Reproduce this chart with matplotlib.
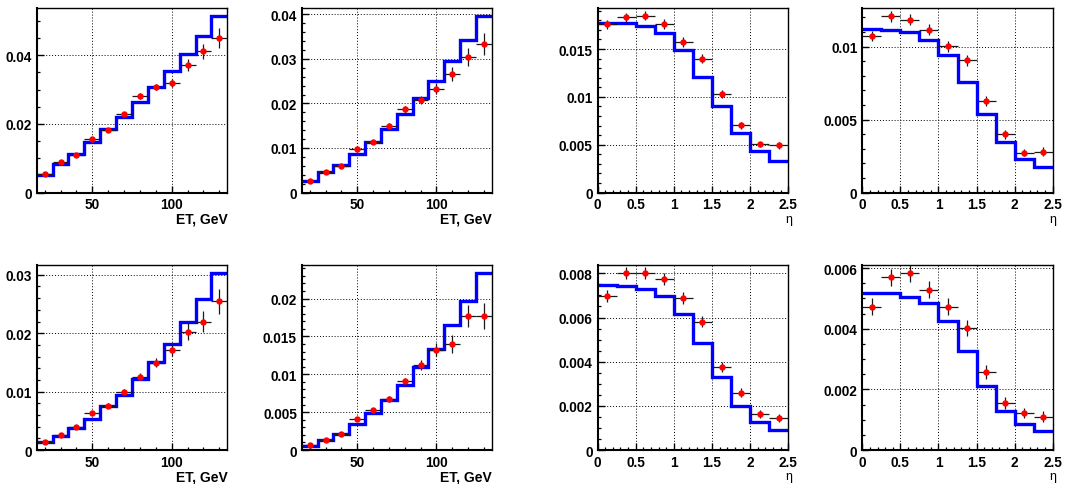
import matplotlib
matplotlib.use("Agg")
import matplotlib.pyplot as plt
from matplotlib.ticker import MultipleLocator, FuncFormatter

# ---- binning ----
et_edges = [15, 25, 35, 45, 55, 65, 75, 85, 95, 105, 115, 125, 135]
et_centers = [20, 30, 40, 50, 60, 70, 80, 90, 100, 110, 120, 130]
eta_edges = [0.0, 0.25, 0.5, 0.75, 1.0, 1.25, 1.5, 1.75, 2.0, 2.25, 2.5]
eta_centers = [0.125, 0.375, 0.625, 0.875, 1.125, 1.375, 1.625, 1.875, 2.125, 2.375]

# ---- top row, ET spectra ----
et1_mc = [0.00512, 0.0082, 0.0112, 0.0146, 0.0184, 0.0220, 0.0264, 0.0307, 0.0353, 0.0405, 0.0457, 0.0513]
et1_data = [0.0055, 0.0088, 0.0109, 0.0156, 0.0182, 0.0229, 0.0281, 0.0307, 0.0318, 0.0372, 0.0411, 0.0450]
et1_err = [0.0004, 0.0005, 0.0005, 0.0006, 0.0006, 0.0007, 0.0008, 0.0009, 0.0012, 0.0018, 0.0023, 0.0029]

et2_mc = [0.00261, 0.00455, 0.00627, 0.00866, 0.01134, 0.01418, 0.01754, 0.0212, 0.0251, 0.0296, 0.0343, 0.0396]
et2_data = [0.0026, 0.00463, 0.00604, 0.00978, 0.01142, 0.01493, 0.01866, 0.02075, 0.02336, 0.02664, 0.03052, 0.03343]
et2_err = [0.0003, 0.0003, 0.0004, 0.0004, 0.0004, 0.0006, 0.0008, 0.0009, 0.0012, 0.0016, 0.0020, 0.0025]

# ---- top row, eta distributions ----
eta1_mc = [0.01771, 0.01768, 0.01736, 0.01663, 0.01486, 0.01212, 0.00903, 0.00622, 0.00431, 0.00333]
eta1_data = [0.01757, 0.0183, 0.0185, 0.01764, 0.01573, 0.01399, 0.01028, 0.00701, 0.00503, 0.00493]
eta1_err = [0.0005, 0.0005, 0.0005, 0.0005, 0.0005, 0.0005, 0.0004, 0.0004, 0.0003, 0.0004]

eta2_mc = [0.01119, 0.01117, 0.01098, 0.01048, 0.00940, 0.00760, 0.00538, 0.00343, 0.00227, 0.00172]
eta2_data = [0.01073, 0.01208, 0.01183, 0.01117, 0.01002, 0.00906, 0.00625, 0.00400, 0.00272, 0.00279]
eta2_err = [0.00037, 0.00037, 0.00037, 0.00037, 0.00037, 0.00037, 0.00033, 0.0003, 0.00025, 0.0003]

# ---- bottom row, ET spectra ----
et3_mc = [0.00143, 0.00245, 0.00371, 0.00531, 0.00747, 0.00947, 0.01215, 0.0150, 0.01814, 0.02196, 0.02584, 0.03023]
et3_data = [0.00143, 0.00262, 0.00399, 0.00627, 0.00759, 0.00987, 0.01255, 0.01495, 0.01717, 0.02025, 0.02196, 0.02544]
et3_err = [0.0002, 0.0002, 0.0003, 0.0003, 0.0004, 0.0005, 0.0006, 0.0008, 0.0010, 0.0015, 0.0018, 0.0022]

et4_mc = [0.00058, 0.00133, 0.00217, 0.00341, 0.00491, 0.00659, 0.00863, 0.01093, 0.01336, 0.01646, 0.01969, 0.02332]
et4_data = [0.00062, 0.00137, 0.00217, 0.00412, 0.00522, 0.00677, 0.00907, 0.01124, 0.01327, 0.01403, 0.0177, 0.0177]
et4_err = [0.0001, 0.0002, 0.0002, 0.0003, 0.0003, 0.0004, 0.0005, 0.0007, 0.0008, 0.0012, 0.0015, 0.00177]

# ---- bottom row, eta distributions ----
eta3_mc = [0.00747, 0.00744, 0.00729, 0.00696, 0.00617, 0.00485, 0.0033, 0.00201, 0.00127, 0.00091]
eta3_data = [0.00699, 0.0080, 0.0080, 0.00774, 0.0069, 0.00581, 0.00375, 0.00259, 0.00163, 0.00145]
eta3_err = [0.00027, 0.00027, 0.00027, 0.00027, 0.00027, 0.00025, 0.00022, 0.0002, 0.00018, 0.0002]

eta4_mc = [0.00519, 0.00517, 0.00505, 0.00486, 0.00425, 0.00326, 0.00212, 0.00129, 0.00085, 0.00063]
eta4_data = [0.00472, 0.00569, 0.00583, 0.00529, 0.00473, 0.00402, 0.00257, 0.00156, 0.00122, 0.0011]
eta4_err = [0.00028, 0.00028, 0.00028, 0.00028, 0.00028, 0.00026, 0.00022, 0.0002, 0.00018, 0.00018]

et_label = "ET, GeV"
eta_label = "\u03b7"

plt.rcParams["font.family"] = ["Liberation Sans", "DejaVu Sans"]

fig = plt.figure(figsize=(10.67, 4.85), dpi=100)

cols = [0.0344, 0.2828, 0.5600, 0.8082]
widths = [0.1786, 0.1781, 0.1788, 0.1784]
rows = [(0.6010, 0.3800), (0.0701, 0.3820)]

panels = [
    # row, col, kind, mc, data, err, ymax, major, minor
    (0, 0, "et", et1_mc, et1_data, et1_err, 0.0537, 0.02, 0.005),
    (0, 1, "et", et2_mc, et2_data, et2_err, 0.0414, 0.01, 0.002),
    (0, 2, "eta", eta1_mc, eta1_data, eta1_err, 0.01927, 0.005, 0.001),
    (0, 3, "eta", eta2_mc, eta2_data, eta2_err, 0.01263, 0.005, 0.001),
    (1, 0, "et", et3_mc, et3_data, et3_err, 0.03172, 0.01, 0.002),
    (1, 1, "et", et4_mc, et4_data, et4_err, 0.02447, 0.005, 0.001),
    (1, 2, "eta", eta3_mc, eta3_data, eta3_err, 0.00839, 0.002, 0.0005),
    (1, 3, "eta", eta4_mc, eta4_data, eta4_err, 0.00611, 0.002, 0.0005),
]

fmt = FuncFormatter(lambda v, _: f"{round(v, 6):g}")

for r, c, kind, mc, data, err, ymax, major, minor in panels:
    bottom, height = rows[r]
    ax = fig.add_axes([cols[c], bottom, widths[c], height])

    if kind == "et":
        edges, centers = et_edges, et_centers
        xmajor, xminor = 50, 10
    else:
        edges, centers = eta_edges, eta_centers
        xmajor, xminor = 0.5, 0.1
    half = [(edges[i + 1] - edges[i]) / 2 for i in range(len(centers))]

    ax.grid(True, color="black", linestyle=(0, (1, 2)), linewidth=0.7, zorder=0)
    ax.set_axisbelow(True)

    ax.stairs(mc, edges, baseline=None, color="#0000ff", linewidth=2.4, zorder=2)
    ax.errorbar(centers, data, yerr=err, xerr=half, fmt="none",
                ecolor="#1a1a1a", elinewidth=0.9, capsize=0, zorder=3)
    ax.plot(centers, data, "o", color="#ff0000", markersize=4.6,
            markeredgewidth=0, zorder=4)

    ax.set_xlim(edges[0], edges[-1])
    ax.set_ylim(0, ymax)

    ax.xaxis.set_major_locator(MultipleLocator(xmajor))
    ax.xaxis.set_minor_locator(MultipleLocator(xminor))
    ax.yaxis.set_major_locator(MultipleLocator(major))
    ax.yaxis.set_minor_locator(MultipleLocator(minor))
    ax.xaxis.set_major_formatter(fmt)
    ax.yaxis.set_major_formatter(fmt)

    ax.tick_params(which="both", direction="in", top=False, right=False,
                   labelsize=9.8, pad=3.5)
    ax.tick_params(which="major", length=5, width=1.0)
    ax.tick_params(which="minor", length=2.5, width=0.9)
    for lab in ax.get_xticklabels() + ax.get_yticklabels():
        lab.set_fontweight("bold")

    for side in ("left", "bottom"):
        ax.spines[side].set_linewidth(1.5)
    for side in ("top", "right"):
        ax.spines[side].set_linewidth(1.0)

    if kind == "et":
        ax.set_xlabel(et_label, fontsize=10, fontweight="bold", loc="right")
        ax.xaxis.set_label_coords(1.0, -0.105)
    else:
        ax.set_xlabel(eta_label, fontsize=9, loc="right")
        ax.xaxis.set_label_coords(1.02, -0.11)

fig.savefig("out.png", dpi=100)
